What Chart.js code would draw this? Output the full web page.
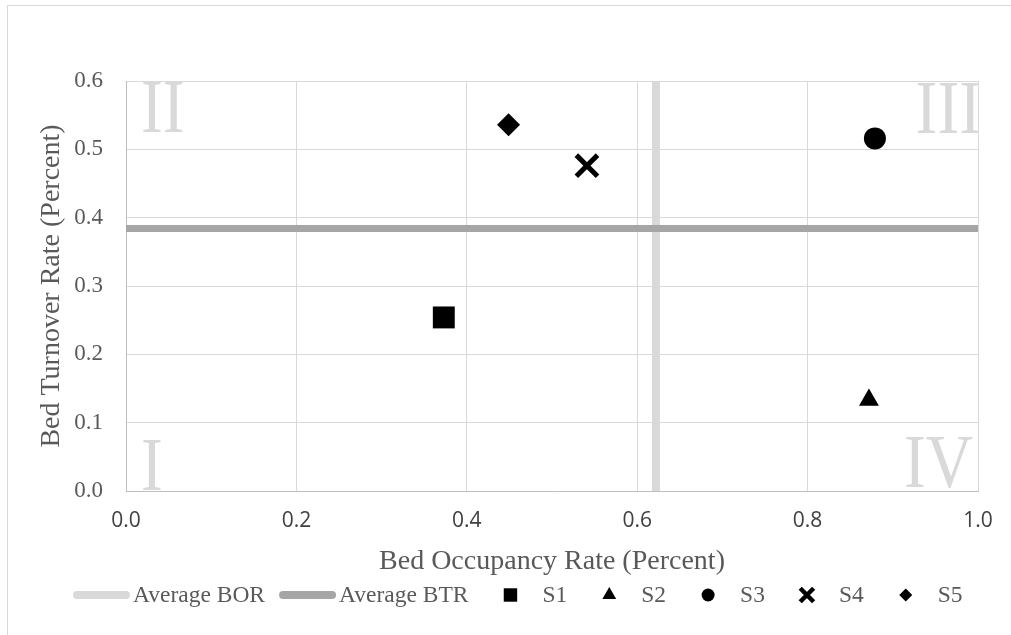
<!DOCTYPE html>
<html>
<head>
<meta charset="utf-8">
<script src="https://cdn.jsdelivr.net/npm/chart.js@4.4.1/dist/chart.umd.min.js"></script>
<style>
  html, body { margin: 0; padding: 0; background: #fff; }
</style>
</head>
<body>
<canvas id="chart" width="1011" height="635"></canvas>
<script>
// values
const seriesNames = ["S1", "S2", "S3", "S4", "S5"];
const borValues = [0.373, 0.872, 0.879, 0.541, 0.449];   // bed occupancy rate
const btrValues = [0.254, 0.133, 0.516, 0.476, 0.536];   // bed turnover rate
const avgBOR = 0.622;
const avgBTR = 0.384;
const quadrantNames = ["I", "II", "III", "IV"];

const markerStyles = ["rect", "triangle", "circle", "crossRot", "rectRot"];
const markerRadius = [15.5, 11.5, 11, 15, 11.5];
const legendRadius = [9.5, 8, 6.5, 9.5, 6.5];

const SERIF = '"Liberation Serif", "DejaVu Serif", serif';
const GRID = "#d9d9d9";
const TEXT = "#595959";

const $ = id => document.getElementById(id);

const pointSets = seriesNames.map((name, i) => ({
  label: name,
  data: [{ x: borValues[i], y: btrValues[i] }],
  pointStyle: markerStyles[i],
  pointRadius: markerRadius[i],
  pointHoverRadius: markerRadius[i],
  backgroundColor: "#000",
  borderColor: "#000",
  pointBorderWidth: markerStyles[i] === "crossRot" ? 5 : 0,
  order: 1
}));

const lineSets = [
  {
    label: "Average BTR",
    data: [{ x: 0, y: avgBTR }, { x: 1, y: avgBTR }],
    showLine: true,
    borderColor: "#a6a6a6",
    borderWidth: 7,
    pointRadius: 0,
    order: 2
  },
  {
    label: "Average BOR",
    data: [{ x: avgBOR, y: 0 }, { x: avgBOR, y: 0.6 }],
    showLine: true,
    borderColor: GRID,
    borderWidth: 8,
    pointRadius: 0,
    order: 3
  }
];

function numeral(ctx, text, x, y, align) {
  ctx.save();
  ctx.translate(x, y);
  ctx.scale(0.85, 1);
  ctx.textAlign = align;
  ctx.fillText(text, 0, 0);
  ctx.restore();
}

// outer frame + big roman numerals behind the grid
const backdrop = {
  id: "backdrop",
  beforeDraw(chart) {
    const ctx = chart.ctx, a = chart.chartArea;
    ctx.save();
    ctx.strokeStyle = GRID;
    ctx.lineWidth = 1;
    ctx.strokeRect(7.5, 5.5, 1100, 700);

    ctx.fillStyle = GRID;
    ctx.font = "77px " + SERIF;
    ctx.textBaseline = "alphabetic";
    numeral(ctx, quadrantNames[0], a.left + 15, a.bottom - 1, "left");
    numeral(ctx, quadrantNames[1], a.left + 15, a.top + 51, "left");
    numeral(ctx, quadrantNames[2], a.right + 3, a.top + 52, "right");
    numeral(ctx, quadrantNames[3], a.right - 5, a.bottom - 4, "right");
    ctx.restore();
  }
};

// legend drawn by hand so line samples and markers get their own widths
const bottomLegend = {
  id: "bottomLegend",
  afterDraw(chart) {
    const ctx = chart.ctx;
    const y = 595;
    let x = 73;
    ctx.save();
    ctx.font = "23.5px " + SERIF;
    ctx.textBaseline = "middle";
    ctx.textAlign = "left";

    const items = [
      { text: lineSets[1].label, color: lineSets[1].borderColor },
      { text: lineSets[0].label, color: lineSets[0].borderColor }
    ].concat(seriesNames.map((n, i) => ({ text: n, marker: i })));

    items.forEach((it, i) => {
      if (i > 0) x += it.marker !== undefined ? 35 : 14;
      if (it.marker === undefined) {
        ctx.strokeStyle = it.color;
        ctx.lineWidth = 8;
        ctx.lineCap = "round";
        ctx.beginPath();
        ctx.moveTo(x + 4, y);
        ctx.lineTo(x + 53, y);
        ctx.stroke();
        x += 60;
      } else {
        const k = it.marker;
        ctx.fillStyle = "#000";
        ctx.strokeStyle = "#000";
        ctx.lineWidth = 4.5;
        ctx.lineCap = "butt";
        Chart.helpers.drawPoint(ctx, {
          pointStyle: markerStyles[k],
          radius: legendRadius[k],
          rotation: 0,
          borderWidth: markerStyles[k] === "crossRot" ? 4.5 : 0
        }, x + 7, y);
        x += 39;
      }
      ctx.fillStyle = TEXT;
      ctx.fillText(it.text, x, y + 1);
      x += ctx.measureText(it.text).width;
    });
    ctx.restore();
  }
};

new Chart($("chart"), {
  type: "scatter",
  data: { datasets: pointSets.concat(lineSets) },
  options: {
    responsive: false,
    animation: false,
    layout: { padding: { top: 81, right: 33, bottom: 0, left: 0 } },
    plugins: {
      legend: { display: false },
      tooltip: { enabled: false }
    },
    scales: {
      x: {
        type: "linear",
        min: 0,
        max: 1,
        ticks: {
          stepSize: 0.2,
          padding: 17,
          color: "#404040",
          font: { family: '"Open Sans", sans-serif', size: 21 },
          callback: v => v.toFixed(1)
        },
        grid: { color: GRID, drawTicks: false },
        border: { color: "#bfbfbf" },
        title: {
          display: true,
          text: "Bed Occupancy Rate (Percent)",
          color: TEXT,
          font: { family: SERIF, size: 28 },
          padding: { top: 0, bottom: 57 }
        },
        afterFit: s => { s.height = 144; }
      },
      y: {
        type: "linear",
        min: 0,
        max: 0.6,
        ticks: {
          stepSize: 0.1,
          padding: 23,
          color: TEXT,
          font: { family: SERIF, size: 23 },
          callback: v => v.toFixed(1)
        },
        grid: { color: GRID, drawTicks: false },
        border: { color: "#bfbfbf" },
        title: {
          display: true,
          text: "Bed Turnover Rate (Percent)",
          color: TEXT,
          font: { family: SERIF, size: 28 },
          padding: { top: 35, bottom: 0 }
        },
        afterFit: s => { s.width = 126; }
      }
    }
  },
  plugins: [backdrop, bottomLegend]
});
</script>
</body>
</html>
